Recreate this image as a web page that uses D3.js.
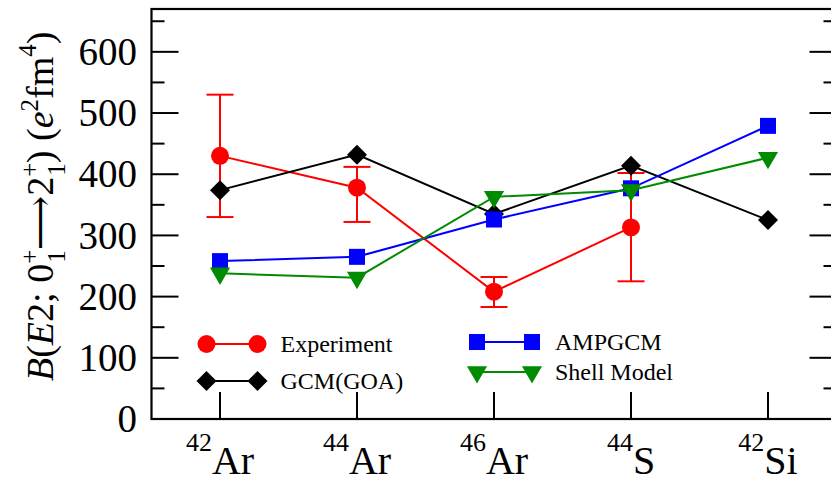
<html>
<head>
<script src="https://d3js.org/d3.v7.min.js"></script>
</head>
<body style="margin:0; background:white">
<svg width="831" height="478" font-family="Liberation Serif"></svg>
<script>

// nuclei on the x axis
var massNumbers = ["42", "44", "46", "44", "42"];
var elements = ["Ar", "Ar", "Ar", "S", "Si"];

// B(E2) values, e^2 fm^4
var expValues = [430, 378, 208, 313];
var expLow = [330, 322, 183, 225];
var expHigh = [530, 412, 232, 402];
var gcmValues = [374, 432, 335, 414, 325];
var ampValues = [258, 265, 326, 377, 479];
var shellValues = [238, 231, 363, 374, 427];

var yTicks = [0, 100, 200, 300, 400, 500, 600];
var yMinor = [50, 150, 250, 350, 450, 550, 650];

var serif = "'Liberation Serif', 'DejaVu Serif', serif";

var svg = d3.select("svg");

var x = d3.scaleLinear().domain([-0.5, 4.5]).range([151.5, 836.5]);
var y = d3.scaleLinear().domain([0, 670]).range([419, 9]);

var red = "#ff0000", blue = "#0000ff", green = "#008b00";

function marker(kind) {
  if (kind == "circle") return d3.symbol().type(d3.symbolCircle).size(254)();
  if (kind == "square") return d3.symbol().type(d3.symbolSquare).size(256)();
  if (kind == "diamond") return d3.symbol().type(d3.symbolSquare).size(200)();
  return d3.symbol().type(d3.symbolTriangle).size(175)();
}
function rot(kind) {
  if (kind == "diamond") return " rotate(45)";
  if (kind == "triangle") return " rotate(180)";
  return "";
}

// frame
svg.append("rect")
  .attr("x", x.range()[0]).attr("y", y.range()[1])
  .attr("width", x.range()[1] - x.range()[0])
  .attr("height", y.range()[0] - y.range()[1])
  .attr("fill", "none").attr("stroke", "black").attr("stroke-width", 2.2);

// y ticks on both sides
var left = x.range()[0], right = x.range()[1];
yTicks.concat(yMinor).forEach(function(v) {
  var len = yTicks.indexOf(v) >= 0 ? 27 : 13;
  svg.append("line").attr("x1", left).attr("x2", left + len)
    .attr("y1", y(v)).attr("y2", y(v))
    .attr("stroke", "black").attr("stroke-width", 2);
  svg.append("line").attr("x1", right).attr("x2", right - len)
    .attr("y1", y(v)).attr("y2", y(v))
    .attr("stroke", "black").attr("stroke-width", 2);
});

svg.selectAll(".ylab")
  .data(yTicks)
  .enter()
  .append("text")
    .attr("class", "ylab")
    .attr("x", 137)
    .attr("y", function(d) { return y(d); })
    .attr("dy", "0.34em")
    .attr("text-anchor", "end")
    .style("font-family", serif)
    .style("font-size", "39px")
    .text(function(d) { return d; });

// x ticks
elements.forEach(function(el, i) {
  svg.append("line").attr("x1", x(i)).attr("x2", x(i))
    .attr("y1", y(0)).attr("y2", y(0) - 27)
    .attr("stroke", "black").attr("stroke-width", 2);
  var t = svg.append("text")
    .attr("x", x(i)).attr("y", 474)
    .attr("text-anchor", "middle")
    .style("font-family", serif)
    .style("font-size", "40px");
  t.append("tspan").attr("dy", -23).style("font-size", "26px").text(massNumbers[i]);
  t.append("tspan").attr("dy", 23).text(el);
});

// y axis title
var title = svg.append("text")
  .attr("transform", "translate(53,381) rotate(-90)")
  .style("font-family", serif)
  .style("font-size", "38px");
title.append("tspan").style("font-style", "italic").text("B");
title.append("tspan").text("(");
title.append("tspan").style("font-style", "italic").text("E");
title.append("tspan").text("2; 0");
title.append("tspan").attr("dy", -15).style("font-size", "25px").text("+");
title.append("tspan").attr("dx", -13).attr("dy", 27).style("font-size", "25px").text("1");
title.append("tspan").attr("dy", -12).text("\u27F6");
title.append("tspan").text("2");
title.append("tspan").attr("dy", -15).style("font-size", "25px").text("+");
title.append("tspan").attr("dx", -13).attr("dy", 27).style("font-size", "25px").text("1");
title.append("tspan").attr("dy", -12).text(")  (");
title.append("tspan").style("font-style", "italic").text("e");
title.append("tspan").attr("dy", -15).style("font-size", "25px").text("2");
title.append("tspan").attr("dy", 15).text("fm");
title.append("tspan").attr("dy", -17).style("font-size", "25px").text("4");
title.append("tspan").attr("dy", 17).text(")");

var line = d3.line()
  .x(function(d, i) { return x(i); })
  .y(function(d) { return y(d); });

// experiment with error bars
var errs = svg.append("g");
expValues.forEach(function(v, i) {
  errs.append("line").attr("x1", x(i)).attr("x2", x(i))
    .attr("y1", y(expLow[i])).attr("y2", y(expHigh[i]))
    .attr("stroke", red).attr("stroke-width", 2);
  [expLow[i], expHigh[i]].forEach(function(e) {
    errs.append("line").attr("x1", x(i) - 13.5).attr("x2", x(i) + 13.5)
      .attr("y1", y(e)).attr("y2", y(e))
      .attr("stroke", red).attr("stroke-width", 2);
  });
});

function drawSeries(values, color, kind) {
  svg.append("path")
    .datum(values)
    .attr("d", line)
    .attr("fill", "none")
    .attr("stroke", color)
    .attr("stroke-width", 2);
  svg.selectAll(".m" + kind)
    .data(values)
    .enter()
    .append("path")
      .attr("class", "m" + kind)
      .attr("d", marker(kind))
      .attr("transform", function(d, i) { return "translate(" + x(i) + "," + y(d) + ")" + rot(kind); })
      .attr("fill", color);
}

drawSeries(expValues, red, "circle");
drawSeries(gcmValues, "black", "diamond");
drawSeries(ampValues, blue, "square");
drawSeries(shellValues, green, "triangle");

// legend
var legend = [
  {name: "Experiment", color: red, kind: "circle", x1: 206.5, x2: 257.5, y: 344},
  {name: "GCM(GOA)", color: "black", kind: "diamond", x1: 206.5, x2: 257.5, y: 381},
  {name: "AMPGCM", color: blue, kind: "square", x1: 477, x2: 532, y: 342},
  {name: "Shell Model", color: green, kind: "triangle", x1: 477, x2: 532, y: 372}
];
legend.forEach(function(d) {
  svg.append("line").attr("x1", d.x1).attr("x2", d.x2)
    .attr("y1", d.y).attr("y2", d.y)
    .attr("stroke", d.color).attr("stroke-width", 2);
  [d.x1, d.x2].forEach(function(px) {
    svg.append("path").attr("d", marker(d.kind))
      .attr("transform", "translate(" + px + "," + d.y + ")" + rot(d.kind))
      .attr("fill", d.color);
  });
  svg.append("text")
    .attr("x", d.x2 + 23).attr("y", d.y + 7.5)
    .style("font-family", serif)
    .style("font-size", "24px")
    .text(d.name);
});

</script>
</body>
</html>
